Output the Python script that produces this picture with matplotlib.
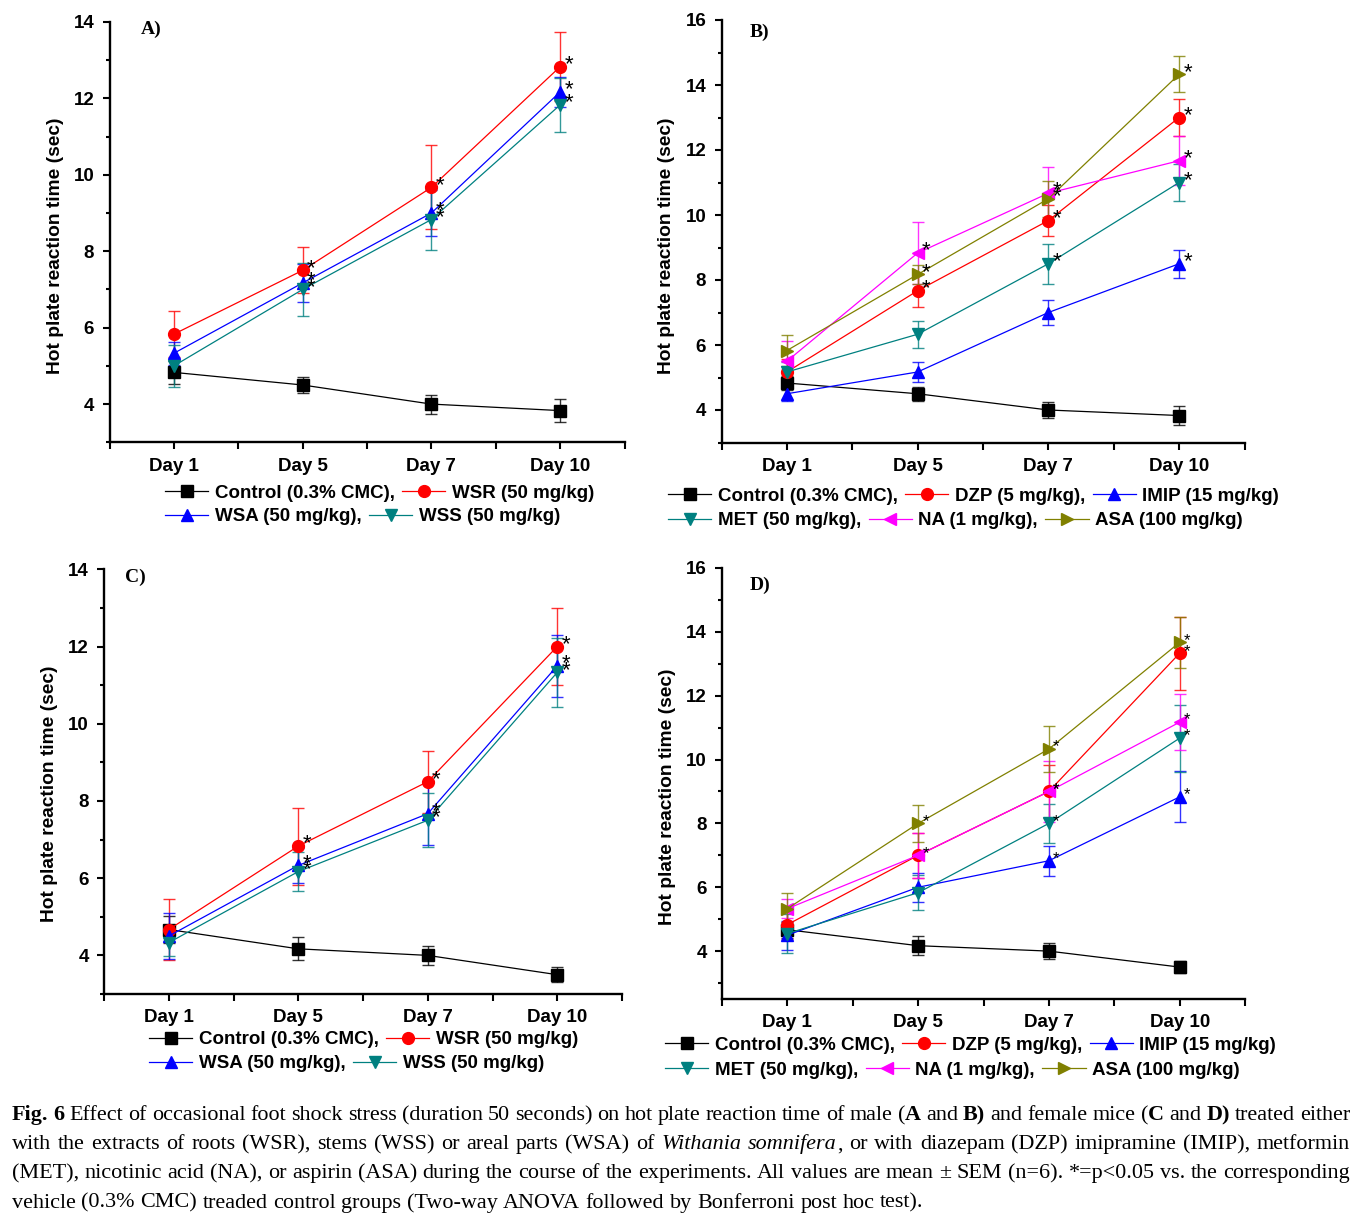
import re
import matplotlib
matplotlib.use("Agg")
import matplotlib.pyplot as plt
from matplotlib.font_manager import FontProperties

# ---------------- data ----------------
days = ["Day 1", "Day 5", "Day 7", "Day 10"]

# Panel A: male mice, extracts
a_labels = ["Control (0.3% CMC),", "WSR (50 mg/kg)", "WSA (50 mg/kg),", "WSS (50 mg/kg)"]
a_ctrl = [4.83, 4.50, 4.00, 3.83]
a_ctrl_err = [0.30, 0.22, 0.25, 0.30]
a_wsr = [5.83, 7.50, 9.67, 12.83]
a_wsr_err = [0.60, 0.60, 1.10, 0.90]
a_wsa = [5.33, 7.17, 9.00, 12.17]
a_wsa_err = [0.30, 0.50, 0.60, 0.40]
a_wss = [5.00, 7.00, 8.83, 11.83]
a_wss_err = [0.55, 0.70, 0.80, 0.70]
a_sig = [[0, 0, 0, 0], [0, 1, 1, 1], [0, 1, 1, 1], [0, 1, 1, 1]]

# Panel B: male mice, reference drugs
b_labels = ["Control (0.3% CMC),", "DZP (5 mg/kg),", "IMIP (15 mg/kg)",
            "MET (50 mg/kg),", "NA (1 mg/kg),", "ASA (100 mg/kg)"]
b_ctrl = [4.83, 4.50, 4.00, 3.83]
b_ctrl_err = [0.22, 0.22, 0.25, 0.30]
b_dzp = [5.17, 7.67, 9.83, 13.00]
b_dzp_err = [0.40, 0.50, 0.48, 0.58]
b_imip = [4.50, 5.17, 7.00, 8.50]
b_imip_err = [0.22, 0.30, 0.37, 0.43]
b_met = [5.17, 6.33, 8.50, 11.00]
b_met_err = [0.30, 0.42, 0.62, 0.57]
b_na = [5.50, 8.83, 10.67, 11.67]
b_na_err = [0.62, 0.95, 0.80, 0.75]
b_asa = [5.83, 8.17, 10.50, 14.33]
b_asa_err = [0.47, 0.30, 0.55, 0.55]
b_sig = [[0, 0, 0, 0], [0, 1, 1, 1], [0, 0, 0, 1], [0, 0, 1, 1], [0, 1, 1, 1], [0, 1, 1, 1]]

# Panel C: female mice, extracts
c_ctrl = [4.67, 4.17, 4.00, 3.50]
c_ctrl_err = [0.35, 0.30, 0.25, 0.20]
c_wsr = [4.67, 6.83, 8.50, 12.00]
c_wsr_err = [0.80, 1.00, 0.80, 1.00]
c_wsa = [4.50, 6.33, 7.67, 11.50]
c_wsa_err = [0.60, 0.45, 0.82, 0.80]
c_wss = [4.33, 6.17, 7.50, 11.33]
c_wss_err = [0.35, 0.50, 0.70, 0.90]
c_sig = [[0, 0, 0, 0], [0, 1, 1, 1], [0, 1, 1, 1], [0, 1, 1, 1]]

# Panel D: female mice, reference drugs
d_ctrl = [4.67, 4.17, 4.00, 3.50]
d_ctrl_err = [0.25, 0.30, 0.25, 0.20]
d_dzp = [4.83, 7.00, 9.00, 13.33]
d_dzp_err = [0.45, 0.70, 0.83, 1.15]
d_imip = [4.50, 6.00, 6.83, 8.83]
d_imip_err = [0.45, 0.45, 0.47, 0.80]
d_met = [4.55, 5.83, 8.00, 10.67]
d_met_err = [0.60, 0.55, 0.60, 1.05]
d_na = [5.33, 7.00, 9.00, 11.17]
d_na_err = [0.30, 0.70, 0.97, 0.87]
d_asa = [5.33, 8.00, 10.33, 13.67]
d_asa_err = [0.50, 0.58, 0.72, 0.80]
d_sig = [[0, 0, 0, 0], [0, 0, 1, 1], [0, 0, 1, 1], [0, 0, 1, 1], [0, 1, 1, 1], [0, 1, 1, 1]]

caption_lines = [
    "{b:Fig. 6} Effect of occasional foot shock stress (duration 50 seconds) on hot plate reaction time of male ({b:A} and {b:B)} and female mice ({b:C} and {b:D)} treated either",
    "with the extracts of roots (WSR), stems (WSS) or areal parts (WSA) of {i:Withania somnifera}, or with diazepam (DZP) imipramine (IMIP), metformin",
    "(MET), nicotinic acid (NA), or aspirin (ASA) during the course of the experiments. All values are mean \u00b1 SEM (n=6). *=p<0.05 vs. the corresponding",
    "vehicle (0.3% CMC) treaded control groups (Two-way ANOVA followed by Bonferroni post hoc test).",
]

# ---------------- style ----------------
SANS = "Liberation Sans"
SERIF = "Liberation Serif"
FS = 13.5
COL = {"k": "#000000", "r": "#FF0000", "b": "#0000FF", "t": "#008080",
       "m": "#FF00FF", "o": "#808000"}
W, H = 1368, 1216
fig = plt.figure(figsize=(W / 100, H / 100), dpi=100)
plt.rcParams["font.family"] = [SANS, "DejaVu Sans"]


def px_axes(left, right, top, bottom):
    return fig.add_axes([left / W, 1 - bottom / H, (right - left) / W, (bottom - top) / H])


def style_axes(ax, ylim, ymax_tick):
    for s in ("top", "right"):
        ax.spines[s].set_visible(False)
    for s in ("left", "bottom"):
        ax.spines[s].set_linewidth(1.7)
    ax.set_xlim(-0.5, 3.5)
    ax.set_xticks(range(len(days)))
    ax.set_xticklabels(days)
    ax.set_xticks([-0.5, 0.5, 1.5, 2.5, 3.5], minor=True)
    ax.set_ylim(*ylim)
    ax.set_yticks(range(4, ymax_tick + 1, 2))
    ax.set_yticks(range(3, ymax_tick, 2), minor=True)
    ax.tick_params(axis="both", which="major", direction="out", length=5, width=1.5,
                   labelsize=FS, pad=6)
    ax.tick_params(axis="x", which="minor", direction="out", length=5, width=1.5)
    ax.tick_params(axis="y", which="minor", direction="out", length=3, width=1.5)
    for lab in ax.get_xticklabels() + ax.get_yticklabels():
        lab.set_fontweight("bold")
    ax.set_ylabel("Hot plate reaction time (sec)", fontsize=13.8, fontweight="bold")
    ax.patch.set_alpha(0)


def draw_series(ax, series, star_fs):
    handles = []
    x = list(range(len(days)))
    for vals, errs, color, marker, sig in series:
        ax.errorbar(x, vals, yerr=errs, fmt="none", ecolor=color, elinewidth=1.0,
                    capsize=4.5, capthick=1.0, alpha=0.8, zorder=2)
        h, = ax.plot(x, vals, color=color, lw=0.9, marker=marker, ms=8.5,
                     mfc=color, mec=color, zorder=3)
        handles.append(h)
        for xi, vi, si in zip(x, vals, sig):
            if si:
                ax.annotate("*", xy=(xi, vi), xytext=(3.0, 1.5), textcoords="offset points",
                            ha="left", va="center", fontsize=star_fs, color="black", zorder=4)
    return handles


def row_legend(handles, labels, x_px, y_px):
    leg = fig.legend(handles, labels, loc="center left",
                     bbox_to_anchor=(x_px / W, 1 - y_px / H), ncol=len(handles),
                     frameon=False, handlelength=2.3, handletextpad=0.35,
                     columnspacing=0.4, borderpad=0, borderaxespad=0,
                     prop=FontProperties(family=SANS, weight="bold", size=FS))
    return leg


# ---------------- Panel A ----------------
axA = px_axes(109.5, 624.5, 22, 442.3)
style_axes(axA, (3, 14), 14)
hA = draw_series(axA, [
    (a_ctrl, a_ctrl_err, COL["k"], "s", a_sig[0]),
    (a_wsr, a_wsr_err, COL["r"], "o", a_sig[1]),
    (a_wsa, a_wsa_err, COL["b"], "^", a_sig[2]),
    (a_wss, a_wss_err, COL["t"], "v", a_sig[3]),
], 16)
axA.yaxis.set_label_coords(-0.088, 0.467)
row_legend(hA[0:2], a_labels[0:2], 165, 493.3)
row_legend(hA[2:4], a_labels[2:4], 165, 516.5)

# ---------------- Panel B ----------------
axB = px_axes(721.5, 1244.5, 20, 442.5)
style_axes(axB, (3, 16), 16)
hB = draw_series(axB, [
    (b_ctrl, b_ctrl_err, COL["k"], "s", b_sig[0]),
    (b_dzp, b_dzp_err, COL["r"], "o", b_sig[1]),
    (b_imip, b_imip_err, COL["b"], "^", b_sig[2]),
    (b_met, b_met_err, COL["t"], "v", b_sig[3]),
    (b_na, b_na_err, COL["m"], "<", b_sig[4]),
    (b_asa, b_asa_err, COL["o"], ">", b_sig[5]),
], 16)
axB.yaxis.set_label_coords(-0.088, 0.465)
row_legend(hB[0:3], b_labels[0:3], 668, 496)
row_legend(hB[3:6], b_labels[3:6], 668, 520.5)

# ---------------- Panel C ----------------
axC = px_axes(104, 622, 569.3, 994)
style_axes(axC, (3, 14), 14)
hC = draw_series(axC, [
    (c_ctrl, c_ctrl_err, COL["k"], "s", c_sig[0]),
    (c_wsr, c_wsr_err, COL["r"], "o", c_sig[1]),
    (c_wsa, c_wsa_err, COL["b"], "^", c_sig[2]),
    (c_wss, c_wss_err, COL["t"], "v", c_sig[3]),
], 16)
axC.yaxis.set_label_coords(-0.088, 0.471)
row_legend(hC[0:2], a_labels[0:2], 149, 1039.5)
row_legend(hC[2:4], a_labels[2:4], 149, 1063.5)

# ---------------- Panel D ----------------
axD = px_axes(722, 1245, 568, 999)
style_axes(axD, (2.5, 16), 16)
hD = draw_series(axD, [
    (d_ctrl, d_ctrl_err, COL["k"], "s", d_sig[0]),
    (d_dzp, d_dzp_err, COL["r"], "o", d_sig[1]),
    (d_imip, d_imip_err, COL["b"], "^", d_sig[2]),
    (d_met, d_met_err, COL["t"], "v", d_sig[3]),
    (d_na, d_na_err, COL["m"], "<", d_sig[4]),
    (d_asa, d_asa_err, COL["o"], ">", d_sig[5]),
], 12)
axD.yaxis.set_label_coords(-0.088, 0.47)
row_legend(hD[0:3], b_labels[0:3], 665, 1045)
row_legend(hD[3:6], b_labels[3:6], 665, 1070)

# ---------------- panel letters ----------------
for txt, xp, yp in [("A)", 151, 29), ("B)", 759, 32), ("C)", 135, 577), ("D)", 760, 585)]:
    fig.text(xp / W, 1 - yp / H, txt, family=SERIF, weight="bold", fontsize=14,
             ha="center", va="center")

# ---------------- caption (justified) ----------------
renderer = fig.canvas.get_renderer()
CAP_FS = 15.9


def props(kind):
    if kind == "b":
        return dict(family=SERIF, weight="bold", style="normal", fontsize=CAP_FS)
    if kind == "i":
        return dict(family=SERIF, weight="normal", style="italic", fontsize=CAP_FS)
    return dict(family=SERIF, weight="normal", style="normal", fontsize=CAP_FS)


def measure(s, kind):
    t = fig.text(0, 0, s, **props(kind))
    w = t.get_window_extent(renderer).width
    t.remove()
    return w


def parse(line):
    runs = []
    for part in re.split(r"(\{[bi]:[^}]*\})", line):
        if not part:
            continue
        m = re.match(r"\{([bi]):([^}]*)\}", part)
        if m:
            runs.append((m.group(2), m.group(1)))
        else:
            runs.append((part, "r"))
    words = [[]]
    for text, kind in runs:
        pieces = text.split(" ")
        for i, p in enumerate(pieces):
            if i > 0:
                words.append([])
            if p:
                words[-1].append((p, kind))
    return [w for w in words if w]


space_w = measure("a a", "r") - measure("aa", "r")
x0, x1 = 12, 1350
baselines = [1120, 1149.2, 1178.4, 1207.6]
for li, line in enumerate(caption_lines):
    words = parse(line)
    widths = [[measure(p, k) for p, k in w] for w in words]
    total = sum(sum(ws) for ws in widths)
    if li < len(caption_lines) - 1:
        gap = (x1 - x0 - total) / (len(words) - 1)
    else:
        gap = space_w
    x = x0
    for w, ws in zip(words, widths):
        for (p, k), pw in zip(w, ws):
            fig.text(x / W, 1 - baselines[li] / H, p, ha="left", va="baseline", **props(k))
            x += pw
        x += gap

fig.savefig("out.png", dpi=100)
